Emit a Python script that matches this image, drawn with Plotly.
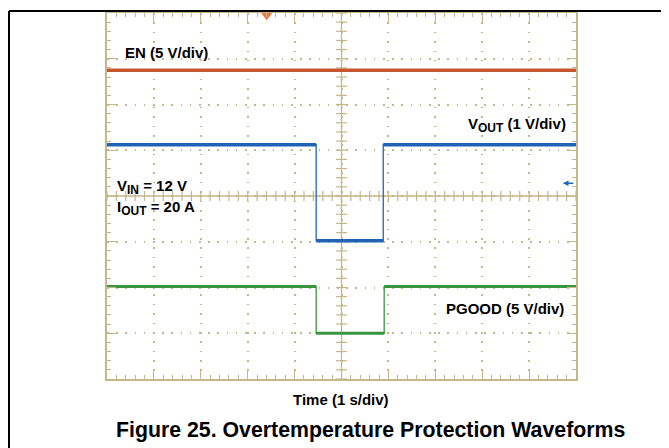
import plotly.graph_objects as go

# ---- data (divisions: x in s, y in screen divisions) ----
en_time = [0, 10]
en_level = [6.75, 6.75]

vout_time = [0, 4.46, 4.46, 5.89, 5.89, 10]
vout_level = [5.12, 5.12, 3.02, 3.02, 5.12, 5.12]

pgood_time = [0, 4.46, 4.46, 5.91, 5.91, 10]
pgood_level = [2.02, 2.02, 1.0, 1.0, 2.02, 2.02]

EN_C = "#c4572e"
VOUT_C = "#1f64b4"
PG_C = "#3a9440"
GRID = "#c6b68c"
FONT = "Arial, 'Liberation Sans', sans-serif"

X_DIV, Y_DIV = 10, 8
SUB = 5  # minor divisions

def flat_segments(xs, ys):
    sx, sy = [], []
    for i in range(len(xs) - 1):
        if ys[i] == ys[i + 1]:
            sx += [xs[i], xs[i + 1], None]
            sy += [ys[i], ys[i + 1], None]
    return sx, sy

fig = go.Figure()

# center cross bars (scope graticule)
cx = [k / SUB for k in range(X_DIV * SUB + 1)]
cy = [k / SUB for k in range(Y_DIV * SUB + 1)]
fig.add_trace(go.Scatter(x=cx, y=[Y_DIV / 2] * len(cx), mode="markers",
                         marker=dict(symbol="line-ns-open", size=7, color=GRID,
                                     line=dict(color=GRID, width=1.2)),
                         hoverinfo="skip"))
fig.add_trace(go.Scatter(x=[X_DIV / 2] * len(cy), y=cy, mode="markers",
                         marker=dict(symbol="line-ew-open", size=8, color=GRID,
                                     line=dict(color=GRID, width=1.2)),
                         hoverinfo="skip"))

# traces
for xs, ys, c, w in [(en_time, en_level, EN_C, 3.5),
                     (vout_time, vout_level, VOUT_C, 3.5),
                     (pgood_time, pgood_level, PG_C, 3.0)]:
    fig.add_trace(go.Scatter(x=xs, y=ys, mode="lines",
                             line=dict(color=c, width=1.3), hoverinfo="skip"))
    sx, sy = flat_segments(xs, ys)
    fig.add_trace(go.Scatter(x=sx, y=sy, mode="lines",
                             line=dict(color=c, width=w), hoverinfo="skip"))

# markers: trigger, ground refs
fig.add_trace(go.Scatter(x=[3.405], y=[7.95], mode="markers", cliponaxis=False,
                         marker=dict(symbol="triangle-down", size=10, color="#f07840"),
                         hoverinfo="skip"))
fig.add_trace(go.Scatter(x=[-0.02], y=[6.0], mode="markers", cliponaxis=False,
                         marker=dict(symbol="line-ns-open", size=12, color=EN_C,
                                     line=dict(color=EN_C, width=2)),
                         hoverinfo="skip"))
fig.add_trace(go.Scatter(x=[-0.03, -0.03], y=[2.95, 0.99], mode="markers",
                         cliponaxis=False,
                         marker=dict(symbol="square", size=2, color=VOUT_C),
                         hoverinfo="skip"))

axis_common = dict(showgrid=True, gridcolor=GRID, gridwidth=1.6,
                   showline=True, linecolor=GRID, linewidth=1.6, mirror="ticks",
                   ticks="inside", ticklen=9, tickcolor=GRID, tickwidth=1.3,
                   showticklabels=False, zeroline=False, fixedrange=True)

fig.update_xaxes(range=[0, X_DIV], tick0=0, dtick=1, griddash="1.6px,7.78px",
                 minor=dict(dtick=1 / SUB, ticks="inside", ticklen=4.5,
                            tickcolor=GRID, tickwidth=1.1, showgrid=False),
                 **axis_common)
fig.update_yaxes(range=[0, Y_DIV], tick0=0, dtick=1, griddash="1.6px,7.6px",
                 minor=dict(dtick=1 / SUB, ticks="inside", ticklen=4.5,
                            tickcolor=GRID, tickwidth=1.1, showgrid=False),
                 **axis_common)

PLOT_L, PLOT_T, PLOT_W, PLOT_H = 99, 3, 469, 368
# outer frame at the figure's own edge (1px inside)
fx = (1 - PLOT_L) / PLOT_W
fy = 1 + (PLOT_T - 1) / PLOT_H

shapes = [
    dict(type="line", xref="x", yref="y", x0=X_DIV / 2, x1=X_DIV / 2, y0=0, y1=Y_DIV,
         line=dict(color=GRID, width=1.3), layer="below"),
    dict(type="line", xref="x", yref="y", x0=0, x1=X_DIV, y0=Y_DIV / 2, y1=Y_DIV / 2,
         line=dict(color=GRID, width=1.3), layer="below"),
    dict(type="line", xref="paper", yref="paper", x0=fx, x1=fx, y0=-0.3, y1=fy,
         line=dict(color="black", width=2)),
    dict(type="line", xref="paper", yref="paper", x0=fx, x1=1.3, y0=fy, y1=fy,
         line=dict(color="black", width=2)),
]

lbl = dict(family=FONT, size=15, color="black", weight="bold")
def sub(s):
    return "<sub><span style='font-size:12px'>" + s + "</span></sub>"

annotations = [
    dict(x=0.34, y=7.13, xref="x", yref="y", text="EN (5 V/div)", showarrow=False,
         xanchor="left", yanchor="middle", font=lbl),
    dict(x=9.82, y=5.55, xref="x", yref="y", text="V" + sub("OUT") + " (1 V/div)",
         showarrow=False, xanchor="right", yanchor="middle", font=lbl),
    dict(x=0.17, y=4.20, xref="x", yref="y", text="V" + sub("IN") + " = 12 V",
         showarrow=False, xanchor="left", yanchor="middle", font=lbl),
    dict(x=0.17, y=3.74, xref="x", yref="y", text="I" + sub("OUT") + " = 20 A",
         showarrow=False, xanchor="left", yanchor="middle", font=lbl),
    dict(x=9.78, y=1.54, xref="x", yref="y", text="PGOOD (5 V/div)",
         showarrow=False, xanchor="right", yanchor="middle", font=lbl),
    dict(x=0.4985, y=-0.057, xref="paper", yref="paper", text="Time (1 s/div)",
         showarrow=False, xanchor="center", yanchor="middle", font=lbl),
    dict(x=0.5608, y=-0.1405, xref="paper", yref="paper",
         text="Figure 25. Overtemperature Protection Waveforms", showarrow=False,
         xanchor="center", yanchor="middle",
         font=dict(family=FONT, size=21.3, color="black", weight="bold")),
    dict(x=9.72, y=4.28, xref="x", yref="y", text="", showarrow=True, ax=12, ay=0,
         arrowhead=2, arrowsize=0.8, arrowwidth=1.4, arrowcolor=VOUT_C),
]

# page body has an 8px margin: size figure so the plot lands where the reference has it
fig.update_layout(width=661, height=440,
                  margin=dict(l=PLOT_L, r=661 - PLOT_L - PLOT_W, t=PLOT_T,
                              b=440 - PLOT_T - PLOT_H),
                  paper_bgcolor="white", plot_bgcolor="white", showlegend=False,
                  shapes=shapes, annotations=annotations)

fig.write_html("out.html")
